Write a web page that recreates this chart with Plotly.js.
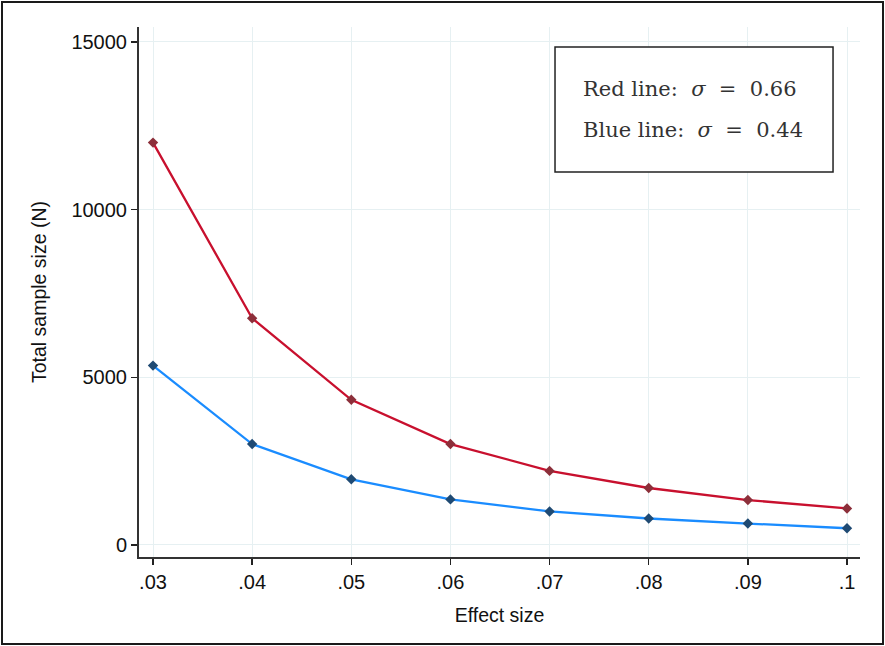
<!DOCTYPE html>
<html>
<head>
<meta charset="utf-8">
<script src="https://cdn.plot.ly/plotly-3.0.1.min.js"></script>
<style>
  html, body { margin: 0; padding: 0; background: #fff; }
  #wrap { position: relative; width: 885px; height: 646px; }
  #chart { position: absolute; left: 0; top: 0; width: 885px; height: 646px; }
  #frame { position: absolute; left: 1px; top: 1px; width: 883px; height: 644px; box-sizing: border-box; border: 2px solid #1a1a1a; pointer-events: none; }
</style>
</head>
<body>
<div id="wrap"><div id="chart"></div><div id="frame"></div></div>
<script>
const effectSize = [0.03, 0.04, 0.05, 0.06, 0.07, 0.08, 0.09, 0.10];
const redN  = [12000, 6760, 4330, 3010, 2210, 1700, 1340, 1090];
const blueN = [5350, 3010, 1960, 1360, 1000, 790, 640, 500];
const xTickVals = [0.03, 0.04, 0.05, 0.06, 0.07, 0.08, 0.09, 0.10];
const xTickText = ['.03', '.04', '.05', '.06', '.07', '.08', '.09', '.1'];
const yTickVals = [0, 5000, 10000, 15000];
const yTickText = ['0', '5000', '10000', '15000'];
const NB = '\u00A0';
const legendLines = [
  'Red line:' + NB + ' <i>σ</i>' + NB + ' =' + NB + ' 0.66',
  'Blue line:' + NB + ' <i>σ</i>' + NB + ' =' + NB + ' 0.44'
];

const traces = [
  { x: effectSize, y: redN, type: 'scatter', mode: 'lines+markers',
    line: { color: '#c8102e', width: 2.3 },
    marker: { symbol: 'diamond', size: 8, color: '#8c2f3a' }, showlegend: false },
  { x: effectSize, y: blueN, type: 'scatter', mode: 'lines+markers',
    line: { color: '#1a8cff', width: 2.3 },
    marker: { symbol: 'diamond', size: 8, color: '#1f4a73' }, showlegend: false }
];

const tickFont = { family: 'Arial, Liberation Sans, sans-serif', size: 20, color: '#111' };
const titleFont = { family: 'Arial, Liberation Sans, sans-serif', size: 19.5, color: '#111' };
const legendFont = { family: 'DejaVu Serif, Liberation Serif, serif', size: 21, color: '#333' };
const layout = {
  width: 885, height: 646,
  margin: { l: 139, r: 25, t: 27, b: 89 },
  paper_bgcolor: '#fff', plot_bgcolor: '#fff',
  font: tickFont,
  xaxis: {
    range: [0.028588, 0.101311],
    tickvals: xTickVals, ticktext: xTickText,
    ticks: 'outside', ticklen: 6, tickwidth: 1.5, tickcolor: '#222',
    showline: true, linecolor: '#333', linewidth: 2,
    showgrid: true, gridcolor: '#e6f0f2', gridwidth: 1,
    zeroline: false, tickfont: tickFont,
    title: { text: 'Effect size', font: titleFont, standoff: 16 }
  },
  yaxis: {
    range: [-358, 15447],
    tickvals: yTickVals, ticktext: yTickText,
    ticks: 'outside', ticklen: 6, tickwidth: 1.5, tickcolor: '#222',
    showline: true, linecolor: '#333', linewidth: 2,
    showgrid: true, gridcolor: '#e6f0f2', gridwidth: 1,
    zeroline: false, tickfont: tickFont,
    title: { text: 'Total sample size (N)', font: titleFont, standoff: 20 }
  },
  shapes: [
    { type: 'rect', xref: 'paper', yref: 'paper', x0: 0.577, x1: 0.9626, y0: 0.7264, y1: 0.9623,
      line: { color: '#222', width: 1.5 }, fillcolor: '#fff', layer: 'above' }
  ],
  annotations: [
    { xref: 'paper', yref: 'paper', x: 0.613, y: 0.883, xanchor: 'left', yanchor: 'middle',
      text: legendLines[0], showarrow: false, font: legendFont },
    { xref: 'paper', yref: 'paper', x: 0.613, y: 0.8057, xanchor: 'left', yanchor: 'middle',
      text: legendLines[1], showarrow: false, font: legendFont }
  ]
};

Plotly.newPlot('chart', traces, layout, { staticPlot: true, displayModeBar: false });
</script>
</body>
</html>
